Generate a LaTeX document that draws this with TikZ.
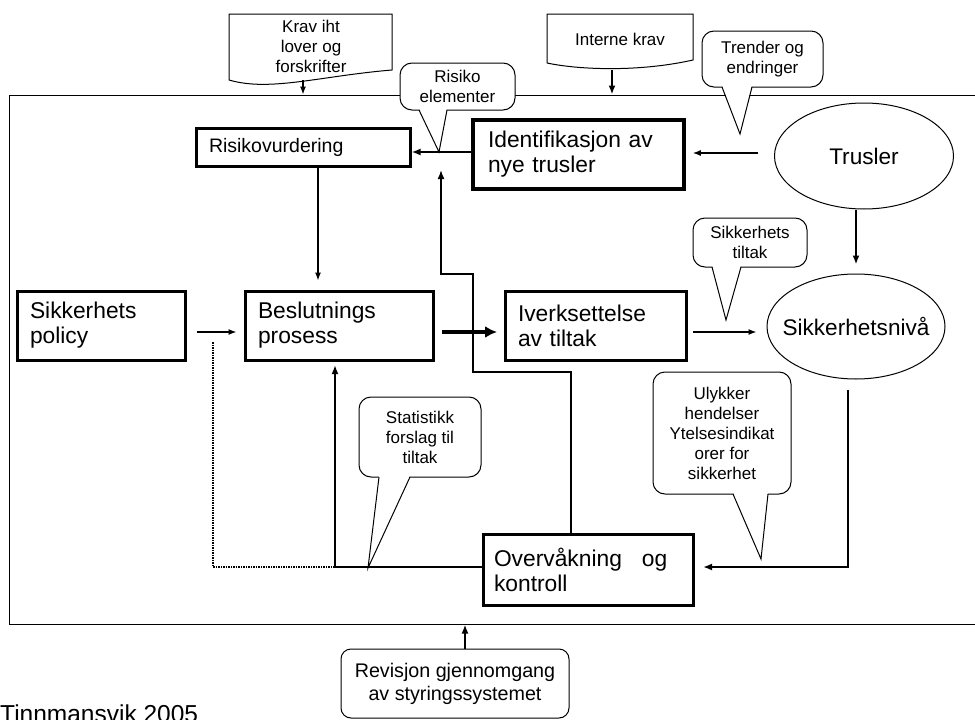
\documentclass[tikz,border=0pt]{standalone}
\usepackage{fontspec}
\setmainfont{Liberation Sans}
\usetikzlibrary{arrows.meta,shapes.geometric}

\tikzset{
  box/.style={draw,line width=3pt,align=left,inner xsep=13pt,inner ysep=0pt,font=\fontsize{22.8}{25}\selectfont},
  oval/.style={draw,ellipse,line width=1pt,inner sep=0pt,font=\fontsize{22.6}{26}\selectfont},
  bubble/.style={draw,line width=1pt,rounded corners=12pt,fill=white,align=center,inner sep=0pt,font=\fontsize{17}{20}\selectfont},
  doctext/.style={align=center,inner sep=0pt,font=\fontsize{17}{20}\selectfont},
  arr/.style={line width=1.2pt,-{Latex[length=8pt,width=6pt]}},
  medarr/.style={line width=2pt,-{Latex[length=9pt,width=7pt]}},
  bigarr/.style={line width=4pt,-{Latex[length=12pt,width=12pt]}}
}

\begin{document}
\begin{tikzpicture}[x=1pt,y=-1pt]
    \useasboundingbox (0,0) rectangle (975,720);
    \node[draw,line width=1pt,minimum width=976pt,minimum height=529pt,inner sep=0pt] (frame) at (497,359.5) {};

    \draw[line width=1pt] (229,80) -- (229,14) -- (392,14) -- (392,70) .. controls (320,76) and (270,92) .. (229,80);
    \node[doctext] (krav) at (311,46) {Krav iht\\lover og\\forskrifter};
    \draw[line width=1pt] (547,63) -- (547,14) -- (693,14) -- (693,60) .. controls (640,72) and (580,70) .. (547,63);
    \node[doctext] (interne) at (620,39) {Interne krav};
    \coordinate (kravbot) at (303,80);
    \coordinate (internebot) at (612,70);

    \node[box,text width=188pt,minimum height=38pt,font=\fontsize{19.5}{22}\selectfont] (risk) at (303,147) {Risikovurdering};
    \node[box,line width=3.6pt,text width=181pt,minimum height=69pt,inner xsep=15pt] (ident) at (578.5,154.5) {Identifikasjon av\\nye trusler};
    \node[box,text width=142pt,minimum height=69pt] (policy) at (101,325.5) {Sikkerhets\\policy};
    \node[box,text width=162pt,minimum height=69pt] (beslut) at (339,325.5) {Beslutnings\\prosess};
    \node[box,text width=155pt,minimum height=69pt] (iverk) at (595.5,325.5) {Iverksettelse\\av tiltak};
    \node[box,text width=188pt,minimum height=71pt,inner xsep=11pt] (overv) at (588,569.5) {Overvåkning\hspace{20pt}og\\kontroll};
    \node[oval,minimum width=179pt,minimum height=106pt] (trusler) at (864,156) {\makebox[0pt]{Trusler}};
    \node[oval,minimum width=178pt,minimum height=105pt] (nivaa) at (856,326.5) {\makebox[0pt]{Sikkerhetsnivå}};

    \node[bubble,minimum width=115pt,minimum height=47pt] (risikoel) at (457.5,86.5) {Risiko\\elementer};
    \node[bubble,minimum width=121pt,minimum height=56pt] (trender) at (762.5,59) {Trender og\\endringer};
    \node[bubble,minimum width=114pt,minimum height=49pt] (sikktiltak) at (750,242.5) {Sikkerhets\\tiltak};
    \node[bubble,minimum width=122pt,minimum height=80pt] (statistikk) at (420,437) {Statistikk\\forslag til\\tiltak};
    \node[bubble,minimum width=138pt,minimum height=122pt] (ulykker) at (722,433) {Ulykker\\hendelser\\Ytelsesindikat\\orer for\\sikkerhet};
    \node[bubble,rounded corners=10pt,minimum width=228pt,minimum height=69pt,font=\fontsize{19.7}{23}\selectfont] (revisjon) at (455,683.5) {Revisjon gjennomgang\\av styringssystemet};
    \foreach \xa/\xb/\yb/\xt/\yt in {419/447/110/439/152, 722/752/87/740/134, 712/741/267/726/320, 379/410/477/368/568, 733/768/494/761/559}{
        \fill[white] (\xa,\yb-2) -- (\xt,\yt) -- (\xb,\yb-2) -- cycle;
        \draw[line width=1pt] (\xa,\yb) -- (\xt,\yt) -- (\xb,\yb);
    }

    \node[anchor=base west,inner sep=0pt,font=\fontsize{24.5}{28}\selectfont] (kilde) at (0,722) {Tinnmansvik 2005};

    \coordinate (upend) at (441,170);
    \coordinate (dotstart) at (213,342);
    \coordinate (junc) at (335,567);
    \draw[arr] (kravbot) -- (kravbot |- frame.north);
    \draw[medarr] (internebot) -- (internebot |- frame.north);
    \draw[medarr] ([xshift=10pt]revisjon.north) -- ([xshift=10pt]revisjon.north |- frame.south);
    \draw[medarr] (ident.west |- 0,152) -- (risk.east |- 0,152);
    \draw[arr,shorten <=16.5pt,shorten >=7pt] (trusler.west |- 0,153) -- (ident.east |- 0,153);
    \draw[medarr,shorten >=9pt] (trusler.south -| nivaa.north) -- (nivaa.north);
    \draw[arr,shorten >=9pt] (risk.south -| 318,0) -- (beslut.north -| 318,0);
    \draw[arr,shorten <=10pt,shorten >=7pt] (policy.east |- 0,332) -- (beslut.west |- 0,332);
    \draw[bigarr,shorten <=7.5pt,shorten >=6.5pt] (beslut.east |- 0,332) -- (iverk.west |- 0,332);
    \draw[arr,shorten <=5.5pt,shorten >=10pt] (iverk.east |- 0,332) -- (nivaa.west |- 0,332);
    \draw[medarr,shorten >=8.5pt] ([xshift=-8pt,yshift=-10pt]nivaa.south) |- (overv.east |- 0,567);
    \draw[medarr,shorten >=3.5pt] (overv.west |- junc) -| (junc |- beslut.south);
    \draw[line width=1.5pt,densely dotted] (dotstart) |- (junc);
    \draw[medarr,line width=1.6pt] ([xshift=-17pt]overv.north) |- (473,372) |- (441,274) -- (upend);
\end{tikzpicture}
\end{document}
